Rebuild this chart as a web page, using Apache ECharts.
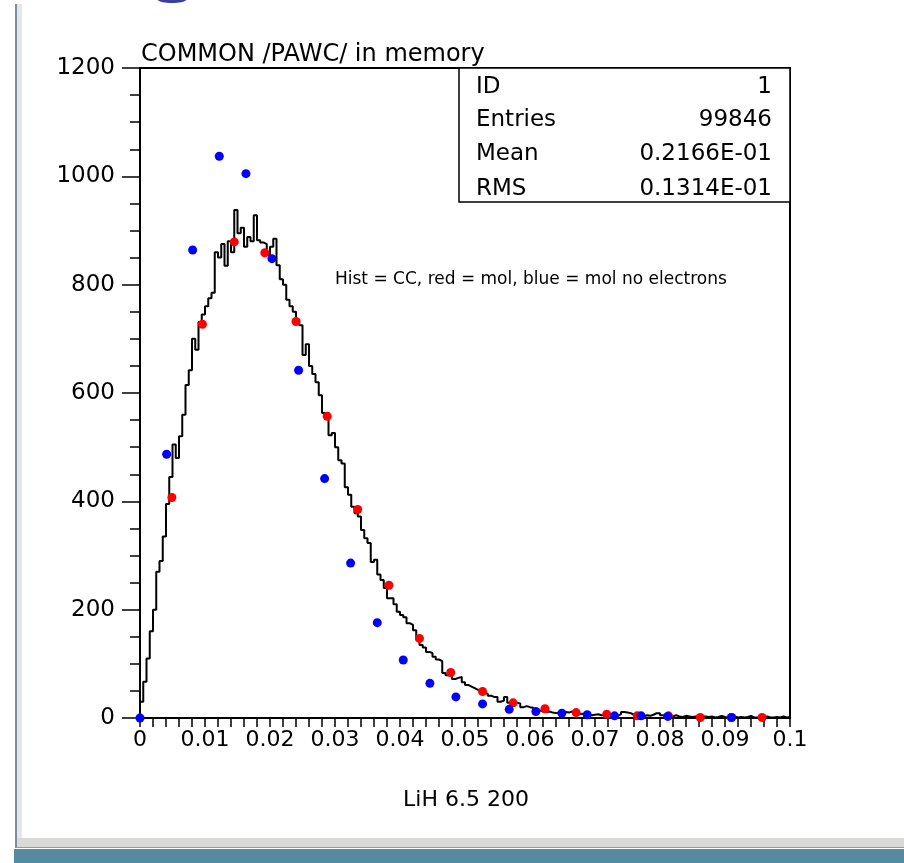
<!DOCTYPE html>
<html>
<head>
  <meta charset="utf-8">
  <title>LiH 6.5 200</title>
  <script src="https://cdn.jsdelivr.net/npm/echarts@6/dist/echarts.min.js"></script>
  <style>
    html, body { margin: 0; padding: 0; background: #fff; }
    #chart { width: 904px; height: 863px; }
  </style>
</head>
<body>
<div id="chart"></div>
<script>
  // histogram CC, 200 bins over 0 .. 0.1
  const binWidth = 0.0005
  const histCounts = [
    30, 67, 110, 160, 200, 270, 290, 335, 395, 445,
    505, 480, 520, 560, 615, 642, 700, 680, 731, 745,
    760, 775, 785, 860, 850, 875, 835, 880, 860, 938,
    895, 905, 870, 888, 880, 928, 882, 878, 875, 855,
    870, 885, 836, 810, 800, 772, 760, 750, 735, 725,
    670, 690, 650, 635, 620, 596, 563, 556, 522, 526,
    500, 476, 470, 426, 412, 390, 378, 372, 347, 332,
    323, 288, 292, 265, 255, 240, 221, 221, 210, 196,
    190, 186, 175, 172, 162, 144, 135, 130, 122, 120,
    113, 108, 105, 83, 79, 77, 72, 74, 76, 66,
    61, 58, 55, 52, 50, 46, 45, 41, 39, 39,
    30, 32, 39, 28, 30, 28, 27, 20, 22, 20,
    19, 13, 14, 12, 11, 12, 10, 9, 10, 8,
    11, 10, 12, 9, 7, 8, 6, 7, 5, 6,
    7, 5, 6, 4, 5, 6, 4, 7, 11, 10,
    9, 6, 5, 4, 3, 5, 4, 6, 9, 9,
    5, 3, 4, 3, 5, 3, 2, 4, 3, 2,
    3, 4, 2, 3, 2, 3, 1, 2, 4, 2,
    1, 2, 3, 1, 2, 1, 2, 4, 1, 1,
    2, 1, 3, 1, 1, 2, 1, 3, 1, 2
  ]

  // red = mol
  const redX = [0.0049, 0.0096, 0.0145, 0.0192, 0.0240, 0.0288, 0.0335, 0.0383, 0.0430, 0.0478,
    0.0527, 0.0574, 0.0623, 0.0671, 0.0718, 0.0765, 0.0813, 0.0862, 0.0910, 0.0957]
  const redY = [407, 727, 879, 859, 732, 557, 385, 245, 147, 84,
    49, 28, 17, 10, 7, 4, 4, 1, 1, 1]

  // blue = mol no electrons
  const blueX = [0, 0.0041, 0.0081, 0.0122, 0.0163, 0.0203, 0.0244, 0.0284, 0.0324, 0.0365,
    0.0405, 0.0446, 0.0486, 0.0527, 0.0568, 0.0609, 0.0649, 0.0688, 0.0730, 0.0771,
    0.0812, 0.0910]
  const blueY = [0, 487, 864, 1037, 1005, 848, 642, 442, 286, 176,
    107, 64, 39, 26, 16, 12, 9, 6, 4, 4,
    3, 1]

  const xTickLabels = ['0', '0.01', '0.02', '0.03', '0.04', '0.05', '0.06', '0.07', '0.08', '0.09', '0.1']
  const yTickLabels = ['0', '200', '400', '600', '800', '1000', '1200']

  const statLabels = ['ID', 'Entries', 'Mean', 'RMS']
  const statValues = ['1', '99846', '0.2166E-01', '0.1314E-01']

  const titleText = 'COMMON /PAWC/ in memory'
  const noteText = 'Hist = CC, red = mol, blue = mol no electrons'
  const xTitle = 'LiH 6.5 200'

  const font = 'DejaVu Sans'

  const histData = [[0, 0]]
  histCounts.forEach((c, i) => histData.push([i * binWidth, c]))
  histData.push([histCounts.length * binWidth, histCounts[histCounts.length - 1]])

  const redData = redX.map((x, i) => [x, redY[i]])
  const blueData = blueX.map((x, i) => [x, blueY[i]])

  const statRowY = [87, 120, 154, 189]
  const statGraphics = []
  statLabels.forEach((label, i) => {
    statGraphics.push({
      type: 'text', x: 476, y: statRowY[i], z: 101,
      style: { text: label, font: '23px "' + font + '"', fill: '#000', textVerticalAlign: 'middle' }
    })
    statGraphics.push({
      type: 'text', x: 772, y: statRowY[i], z: 101,
      style: { text: statValues[i], font: '23px "' + font + '"', fill: '#000', textAlign: 'right', textVerticalAlign: 'middle' }
    })
  })

  const myChart = echarts.init(document.getElementById('chart'), null, { renderer: 'canvas' })
  const option = {
    animation: false,
    backgroundColor: '#fff',
    grid: {
      left: 140,
      top: 68,
      width: 650,
      height: 650,
      show: true,
      borderColor: '#000',
      borderWidth: 2
    },
    xAxis: {
      type: 'value',
      min: 0,
      max: 0.1,
      interval: 0.01,
      axisLine: { lineStyle: { color: '#000', width: 2 } },
      axisTick: { length: 9, lineStyle: { color: '#000', width: 1.5 } },
      minorTick: { show: true, splitNumber: 5, length: 9, lineStyle: { color: '#000', width: 1.5 } },
      splitLine: { show: false },
      axisLabel: {
        margin: 11,
        color: '#000',
        fontFamily: font,
        fontSize: 22,
        showMinLabel: true,
        showMaxLabel: true,
        formatter: v => xTickLabels[Math.round(v / 0.01)]
      }
    },
    yAxis: {
      type: 'value',
      min: 0,
      max: 1200,
      interval: 200,
      axisLine: { show: true, lineStyle: { color: '#000', width: 2 } },
      axisTick: { show: true, length: 18, lineStyle: { color: '#000', width: 1.5 } },
      minorTick: { show: true, splitNumber: 4, length: 10, lineStyle: { color: '#000', width: 1.5 } },
      splitLine: { show: false },
      axisLabel: {
        margin: 25,
        color: '#000',
        fontFamily: font,
        fontSize: 23,
        formatter: v => yTickLabels[Math.round(v / 200)]
      }
    },
    series: [
      {
        name: 'CC',
        type: 'line',
        step: 'end',
        data: histData,
        symbol: 'none',
        lineStyle: { color: '#000', width: 2 },
        z: 2
      },
      {
        name: 'mol',
        type: 'scatter',
        data: redData,
        symbolSize: 9,
        clip: false,
        itemStyle: { color: '#ff0000', opacity: 1 },
        z: 3
      },
      {
        name: 'mol no electrons',
        type: 'scatter',
        data: blueData,
        symbolSize: 9,
        clip: false,
        itemStyle: { color: '#0000ff', opacity: 1 },
        z: 4
      }
    ],
    graphic: [
      // window frame bits
      { type: 'ellipse', shape: { cx: 172, cy: -1, rx: 15, ry: 4 }, style: { fill: '#3a3f9e' } },
      { type: 'rect', shape: { x: 15, y: 4, width: 2, height: 844 }, style: { fill: '#7d8f9c' } },
      { type: 'rect', shape: { x: 17, y: 4, width: 5, height: 835 }, style: { fill: '#e6e6e6' } },
      { type: 'rect', shape: { x: 17, y: 838, width: 887, height: 10 }, style: { fill: '#d9d9d7' } },
      { type: 'rect', shape: { x: 17, y: 847, width: 887, height: 1 }, style: { fill: '#9a9a9a' } },
      { type: 'rect', shape: { x: 14, y: 849, width: 890, height: 14 }, style: { fill: '#568b9f' } },
      {
        type: 'text', x: 141, y: 55,
        style: { text: titleText, font: '24px "' + font + '"', fill: '#000', textVerticalAlign: 'middle' }
      },
      {
        type: 'rect', z: 100,
        shape: { x: 459, y: 68, width: 331, height: 134 },
        style: { fill: '#fff', stroke: '#000', lineWidth: 1.5 }
      },
      ...statGraphics,
      {
        type: 'text', x: 335, y: 280,
        style: { text: noteText, font: '17px "' + font + '"', fill: '#000', textVerticalAlign: 'middle' }
      },
      {
        type: 'text', x: 466, y: 800,
        style: { text: xTitle, font: '22px "' + font + '"', fill: '#000', textAlign: 'center', textVerticalAlign: 'middle' }
      }
    ]
  }
  myChart.setOption(option, true)
</script>
</body>
</html>
